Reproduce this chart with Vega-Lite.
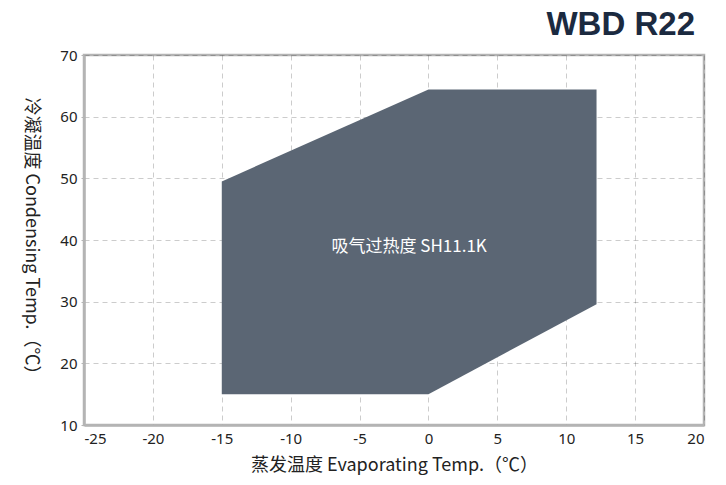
{
  "$schema": "https://vega.github.io/schema/vega-lite/v6.json",
  "autosize": {"type": "none"},
  "width": 620,
  "height": 370,
  "padding": {"left": 84, "top": 55, "right": 22, "bottom": 60},
  "background": "white",
  "title": {
    "text": "WBD R22",
    "anchor": "end",
    "frame": "group",
    "font": "Liberation Sans",
    "fontSize": 33,
    "fontWeight": "bold",
    "color": "#1b2a40",
    "offset": 6,
    "dx": -9
  },
  "config": {
    "view": {"stroke": "#b4b4b4", "strokeWidth": 2.5},
    "axis": {
      "domainColor": "#b4b4b4",
      "domainWidth": 2.5,
      "gridColor": "#000000",
      "gridOpacity": 0.2,
      "gridDash": [5, 4],
      "gridWidth": 1,
      "labelFont": "Noto Sans",
      "labelFontSize": 15,
      "labelColor": "#222222",
      "titleFont": "Noto Sans CJK SC",
      "titleFontSize": 18,
      "titleFontWeight": "normal",
      "titleColor": "#222222",
      "tickColor": "#b4b4b4",
      "zindex": 1
    }
  },
  "layer": [
    {
      "data": {
        "values": [
          {"x": -15, "ylo": 15, "yhi": 49.5},
          {"x": 0, "ylo": 15, "yhi": 64.4},
          {"x": 12.2, "ylo": 29.6, "yhi": 64.4}
        ]
      },
      "mark": {"type": "area", "color": "#5b6674", "opacity": 1, "interpolate": "linear"},
      "encoding": {
        "x": {
          "field": "x",
          "type": "quantitative",
          "scale": {"domain": [-25, 20], "nice": false, "zero": false},
          "axis": {
            "values": [-25, -20, -15, -10, -5, 0, 5, 10, 15, 20],
            "labelExpr": "'' + datum.value",
            "title": "蒸发温度  Evaporating Temp.（℃）",
            "tickSize": 0,
            "labelPadding": 6,
            "titlePadding": 10,
            "grid": true
          }
        },
        "y": {
          "field": "ylo",
          "type": "quantitative",
          "scale": {"domain": [10, 70], "nice": false, "zero": false},
          "axis": {
            "values": [10, 15, 20, 25, 30, 35, 40, 45, 50, 55, 60, 65, 70],
            "labelExpr": "datum.value % 10 == 0 ? datum.label : ''",
            "tickSize": 3,
            "tickOpacity": {"expr": "datum.value % 10 == 0 ? 1 : 0"},
            "labelPadding": 4,
            "title": "冷凝温度 Condensing Temp.（℃）",
            "titleAngle": 90,
            "titleAlign": "center",
            "titleBaseline": "middle",
            "titleX": -54,
            "titleY": 185,
            "grid": true
          }
        },
        "y2": {"field": "yhi"}
      }
    },
    {
      "data": {"values": [{"x": -1.4, "y": 38.8, "label": "吸气过热度 SH11.1K"}]},
      "mark": {"type": "text", "color": "white", "font": "Noto Sans CJK SC", "fontSize": 17, "letterSpacing": 6, "align": "center", "baseline": "middle"},
      "encoding": {
        "x": {"field": "x", "type": "quantitative"},
        "y": {"field": "y", "type": "quantitative"},
        "text": {"field": "label"}
      }
    }
  ]
}
